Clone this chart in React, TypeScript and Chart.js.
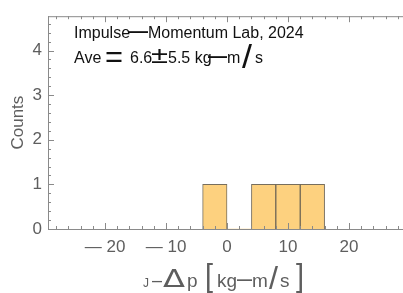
import React, { useEffect, useRef } from "react";
import { Chart, registerables } from "chart.js";

Chart.register(...registerables);

const binEdges = [-4, 0, 4, 8, 12, 16];
const counts = [1, 0, 1, 1, 1];
const xMin = -29.35;
const xMax = 28.85;
const yMax = 4.77;
const yTitle = "Counts";

const FONT = "'Liberation Sans', Arial, sans-serif";
const DEJAVU = "'DejaVu Sans', sans-serif";
const AXIS_COLOR = "#8a8a8a";
const TEXT_GRAY = "#5e5e5e";

type Seg = { t: string; x: number; s: number; w?: number; sy?: number; wt?: string; dy?: number; f?: string };

const line1: Seg[] = [
  { t: "Impulse", x: 74, s: 16 },
  { t: "—", x: 129, s: 19, w: 19, wt: "bold", dy: -1 },
  { t: "Momentum Lab, 2024", x: 148, s: 16 },
];
const line2: Seg[] = [
  { t: "Ave", x: 74, s: 16 },
  { t: "=", x: 105, s: 22, w: 18, sy: 1.35, dy: 4 },
  { t: "6.6", x: 130, s: 16 },
  { t: "±", x: 151, s: 20, w: 17, sy: 1.2, dy: 0 },
  { t: "5.5 kg", x: 168, s: 16 },
  { t: "—", x: 208, s: 19, w: 19, wt: "bold", dy: -1 },
  { t: "m", x: 227, s: 16 },
  { t: "/", x: 242, s: 20, w: 10, sy: 1.65, dy: 5 },
  { t: "s", x: 255, s: 16 },
];
const xTitleSegs: Seg[] = [
  { t: "J", x: 143, s: 12 },
  { t: "—", x: 152, s: 12, w: 10, wt: "bold", dy: -2 },
  { t: "Δ", x: 163, s: 25, w: 22, f: DEJAVU },
  { t: "p", x: 187, s: 19 },
  { t: "[", x: 205, s: 31, w: 8, dy: -1 },
  { t: "kg", x: 217, s: 19 },
  { t: "—", x: 237, s: 16, w: 15, wt: "bold", dy: -2 },
  { t: "m", x: 252, s: 19 },
  { t: "/", x: 269, s: 20, w: 9, sy: 1.6, dy: 2 },
  { t: "s", x: 280, s: 19 },
  { t: "]", x: 296, s: 31, w: 8, dy: -1 },
];

function drawSegs(ctx: CanvasRenderingContext2D, segs: Seg[], baseline: number, color: string) {
  ctx.save();
  ctx.fillStyle = color;
  ctx.textBaseline = "alphabetic";
  ctx.textAlign = "left";
  segs.forEach((g) => {
    ctx.font = `${g.wt || "normal"} ${g.s}px ${g.f || FONT}`;
    const y = baseline + (g.dy || 0);
    if (g.w || g.sy) {
      const m = ctx.measureText(g.t).width;
      const kx = g.w ? g.w / m : 1;
      ctx.save();
      ctx.translate(g.x, y);
      ctx.scale(kx, g.sy || 1);
      ctx.fillText(g.t, 0, 0);
      ctx.restore();
    } else {
      ctx.fillText(g.t, g.x, y);
    }
  });
  ctx.restore();
}

const framePlugin = {
  id: "frame",
  afterDraw(chart: any) {
    const ctx = chart.ctx as CanvasRenderingContext2D;
    const { left, right, top, bottom } = chart.chartArea;
    const xs = chart.scales.x;
    const ys = chart.scales.y;
    ctx.save();
    ctx.strokeStyle = AXIS_COLOR;
    ctx.lineWidth = 1;
    ctx.beginPath();
    ctx.moveTo(left, top + 0.5);
    ctx.lineTo(right, top + 0.5);
    ctx.stroke();
    for (let v = -28; v <= 28; v += 2) {
      const px = Math.round(xs.getPixelForValue(v)) + 0.5;
      const len = v % 10 === 0 ? 6 : 3;
      ctx.beginPath();
      ctx.moveTo(px, bottom);
      ctx.lineTo(px, bottom - len);
      ctx.moveTo(px, top);
      ctx.lineTo(px, top + len);
      ctx.stroke();
    }
    for (let i = 0; i <= 23; i++) {
      const v = i * 0.2;
      if (v > yMax) break;
      const py = Math.round(ys.getPixelForValue(v)) + 0.5;
      const len = i % 5 === 0 ? 6 : 3;
      ctx.beginPath();
      ctx.moveTo(left, py);
      ctx.lineTo(left + len, py);
      ctx.stroke();
    }
    ctx.restore();

    drawSegs(ctx, line1, 38, "#111");
    drawSegs(ctx, line2, 63, "#111");
    drawSegs(ctx, xTitleSegs, 287, TEXT_GRAY);

    ctx.save();
    ctx.translate(23, (top + bottom) / 2);
    ctx.rotate(-Math.PI / 2);
    ctx.font = `17px ${FONT}`;
    ctx.fillStyle = TEXT_GRAY;
    ctx.textAlign = "center";
    ctx.textBaseline = "alphabetic";
    ctx.fillText(yTitle, 0, 0);
    ctx.restore();
  },
};

export default function App() {
  const ref = useRef<HTMLCanvasElement>(null);
  useEffect(() => {
    if (!ref.current) return;
    const data = counts.map((c, i) => ({ x: (binEdges[i] + binEdges[i + 1]) / 2, y: c }));
    const chart = new Chart(ref.current, {
      type: "bar",
      data: {
        datasets: [
          {
            data: data as any,
            backgroundColor: "#fdd17f",
            borderColor: "rgba(95,85,65,0.85)",
            borderWidth: (c: any) => (c.raw && c.raw.y > 0 ? 1 : 0),
            barPercentage: 1,
            categoryPercentage: 1,
            borderSkipped: "bottom",
          } as any,
        ],
      },
      options: {
        responsive: false,
        animation: false,
        layout: { padding: { top: 8, left: 0, right: 0, bottom: 0 } },
        plugins: { legend: { display: false }, tooltip: { enabled: false } },
        scales: {
          x: {
            type: "linear",
            min: xMin,
            max: xMax,
            offset: false,
            grid: { display: false, drawTicks: false },
            border: { display: true, color: AXIS_COLOR, width: 1 },
            ticks: {
              stepSize: 10,
              includeBounds: false,
              autoSkip: false,
              maxRotation: 0,
              padding: 8,
              color: TEXT_GRAY,
              font: { family: FONT, size: 17 },
              callback: (v: any) => {
                const n = Number(v);
                if (Math.abs(n % 10) > 1e-6) return "";
                return n < 0 ? "— " + Math.abs(n) : String(n);
              },
            },
            afterFit: (s: any) => {
              s.height = 64;
            },
          },
          y: {
            min: 0,
            max: yMax,
            grid: { display: false, drawTicks: false },
            border: { display: true, color: AXIS_COLOR, width: 1 },
            ticks: {
              stepSize: 1,
              includeBounds: false,
              padding: 6,
              color: TEXT_GRAY,
              font: { family: FONT, size: 17 },
              callback: (v: any) => (Number.isInteger(Number(v)) ? String(v) : ""),
            },
            afterFit: (s: any) => {
              s.width = 48;
            },
          },
        },
      } as any,
      plugins: [framePlugin],
    });
    return () => chart.destroy();
  }, []);
  return (
    <div style={{ position: "fixed", left: 0, top: 0, width: 403, height: 293, background: "#fff" }}>
      <canvas ref={ref} width={403} height={293} style={{ width: 403, height: 293, display: "block" }} />
    </div>
  );
}
